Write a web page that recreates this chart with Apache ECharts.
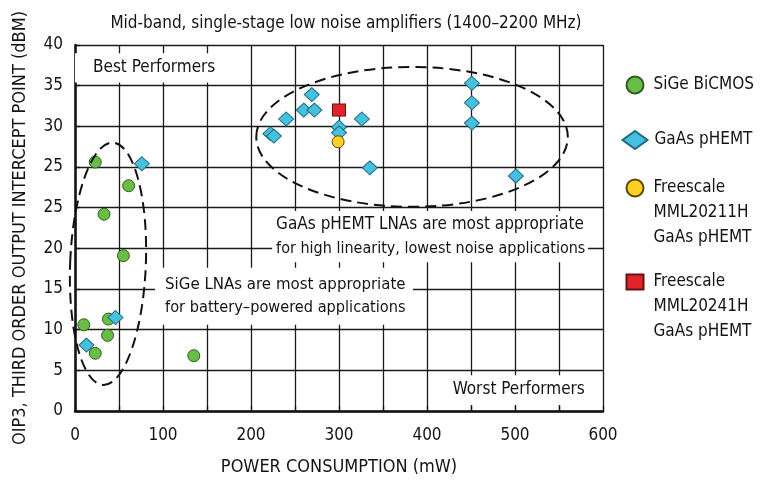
<!DOCTYPE html>
<html>
<head>
<meta charset="utf-8">
<script src="https://cdn.jsdelivr.net/npm/echarts@6/dist/echarts.min.js"></script>
<style>
  html, body { margin: 0; padding: 0; background: #fff; }
  #chart { width: 762px; height: 483px; }
</style>
</head>
<body>
<div id="chart"></div>
<script>
// OIP3 vs power consumption for mid-band LNAs
const FONT = '"Liberation Sans Narrow", "Arial Narrow", "DejaVu Sans Condensed", sans-serif';

// Y scale has nine 5-unit steps; the printed labels repeat "25"
const yTickLabels = ['0', '5', '10', '15', '20', '25', '25', '30', '35', '40'];

// SiGe BiCMOS parts
const sigeX = [23, 61, 33, 55, 10, 38, 37, 23, 135];
const sigeY = [30.6, 27.7, 24.2, 19.1, 10.6, 11.3, 9.3, 7.1, 6.8];

// GaAs pHEMT parts
const gaasX = [76, 46, 13, 269, 260, 272, 240, 222, 226, 300, 300, 326, 335, 451, 451, 451, 501];
const gaasY = [30.4, 11.5, 8.1, 38.9, 37.0, 37.0, 35.9, 34.1, 33.8, 34.9, 34.2, 35.9, 29.9, 40.3, 37.9, 35.4, 28.9];

// Freescale parts
const mml20211X = [299];
const mml20211Y = [33.1];
const mml20241X = [300];
const mml20241Y = [37.0];

const zip = (xs, ys) => xs.map((x, i) => [x, ys[i]]);

const chart = echarts.init(document.getElementById('chart'), null, { renderer: 'canvas' });

const TEXT = '#141414';
const boxLabel = (distance, extra) => Object.assign({
  show: true,
  color: TEXT,
  fontFamily: FONT,
  fontSize: 17,
  lineHeight: 23,
  position: 'insideLeft',
  distance: distance
}, extra || {});

const legendBase = {
  orient: 'vertical',
  padding: 0,
  selectedMode: false,
  textStyle: { fontFamily: FONT, fontSize: 17, color: TEXT, lineHeight: 25, padding: [0, 0, 0, 5] }
};

// multi-line legend names: two leading blank lines put the first line beside the icon
const firstLineBesideIcon = name => '\n\n' + name;

const option = {
  animation: false,
  backgroundColor: '#fff',
  title: {
    text: 'Mid-band, single-stage low noise amplifiers (1400\u20132200 MHz)',
    left: 341,
    top: 10,
    textAlign: 'center',
    textStyle: { fontFamily: FONT, fontSize: 17, fontWeight: 'normal', color: TEXT }
  },
  grid: { left: 75, right: 159, top: 45, bottom: 72, containLabel: false, outerBoundsMode: 'none' },
  xAxis: {
    type: 'value',
    min: 0, max: 600, interval: 50,
    name: 'POWER CONSUMPTION (mW)',
    nameLocation: 'middle',
    nameGap: 47,
    nameTextStyle: { fontFamily: FONT, fontSize: 18, color: TEXT },
    axisLine: { lineStyle: { color: '#111', width: 2.5 } },
    axisTick: { show: true, inside: true, length: 5, lineStyle: { color: '#111', width: 1.3 } },
    axisLabel: {
      fontFamily: FONT, fontSize: 17, color: TEXT, margin: 16,
      formatter: v => (v % 100 === 0 ? String(v) : '')
    },
    splitLine: { show: true, lineStyle: { color: '#1a1a1a', width: 1.3 } }
  },
  yAxis: {
    type: 'value',
    min: 0, max: 45, interval: 5,
    name: 'OIP3, THIRD ORDER OUTPUT INTERCEPT POINT (dBM)',
    nameLocation: 'middle',
    nameGap: 46,
    nameTextStyle: { fontFamily: FONT, fontSize: 18, color: TEXT },
    axisLine: { show: true, lineStyle: { color: '#111', width: 2.5 } },
    axisTick: { show: true, inside: true, length: 5, lineStyle: { color: '#111', width: 1.3 } },
    axisLabel: {
      fontFamily: FONT, fontSize: 17, color: TEXT, margin: 12,
      formatter: v => yTickLabels[Math.round(v / 5)]
    },
    splitLine: { show: true, lineStyle: { color: '#1a1a1a', width: 1.3 } }
  },
  legend: [
    Object.assign({}, legendBase, {
      data: ['SiGe BiCMOS'],
      left: 625.5, top: 72.5, itemWidth: 17, itemHeight: 17
    }),
    Object.assign({}, legendBase, {
      data: ['GaAs pHEMT'],
      textStyle: Object.assign({}, legendBase.textStyle, { padding: [0, 0, 0, 2] }),
      left: 621.5, top: 127.5, itemWidth: 25, itemHeight: 18, symbolKeepAspect: false
    }),
    Object.assign({}, legendBase, {
      data: ['Freescale\nMML20211H\nGaAs pHEMT'],
      formatter: firstLineBesideIcon,
      left: 625.5, top: 125.5, itemWidth: 17, itemHeight: 17
    }),
    Object.assign({}, legendBase, {
      data: ['Freescale\nMML20241H\nGaAs pHEMT'],
      formatter: firstLineBesideIcon,
      left: 625.5, top: 219.5, itemWidth: 17, itemHeight: 15, symbolKeepAspect: false
    })
  ],
  series: [
    {
      name: 'SiGe BiCMOS',
      type: 'scatter',
      symbol: 'circle',
      symbolSize: 12,
      z: 3,
      itemStyle: { color: '#67bd45', borderColor: '#2f5e1c', borderWidth: 1, opacity: 1 },
      data: zip(sigeX, sigeY),
      markArea: {
        silent: true,
        z: 1,
        itemStyle: { color: '#fff', borderWidth: 0 },
        data: [
          [{ name: 'Best Performers', coord: [0, 44.0], label: boxLabel(18) },
           { coord: [193, 40.4] }],
          [{ name: 'Worst Performers', coord: [403, 4.4], label: boxLabel(23) },
           { coord: [597, 0.75] }],
          [{
            name: 'SiGe LNAs are most appropriate\nfor battery\u2013powered applications',
            coord: [91, 17.6],
            label: boxLabel(10, {
              formatter: '{a|SiGe LNAs are most appropriate}\n{b|for battery\u2013powered applications}',
              rich: {
                a: { fontFamily: FONT, fontSize: 16.7, color: TEXT, lineHeight: 23 },
                b: { fontFamily: FONT, fontSize: 16.2, color: TEXT, lineHeight: 23 }
              }
            })
          }, { coord: [384, 10.6] }],
          [{
            name: 'GaAs pHEMT LNAs are most appropriate\nfor high linearity, lowest noise applications',
            coord: [224, 24.6],
            label: boxLabel(4, {
              formatter: '{a|GaAs pHEMT LNAs are most appropriate}\n{b|for high linearity, lowest noise applications}',
              rich: {
                a: { fontFamily: FONT, fontSize: 17, color: TEXT, lineHeight: 24 },
                b: { fontFamily: FONT, fontSize: 16, color: TEXT, lineHeight: 24 }
              }
            })
          }, { coord: [583, 18.3] }]
        ]
      }
    },
    {
      name: 'GaAs pHEMT',
      type: 'scatter',
      symbol: 'diamond',
      symbolSize: [15, 14],
      z: 3,
      itemStyle: { color: '#45c0df', borderColor: '#1e6a80', borderWidth: 1, opacity: 1 },
      data: zip(gaasX, gaasY)
    },
    {
      name: 'Freescale\nMML20211H\nGaAs pHEMT',
      type: 'scatter',
      symbol: 'circle',
      symbolSize: 12,
      z: 4,
      itemStyle: { color: '#fdd022', borderColor: '#5b4812', borderWidth: 1, opacity: 1 },
      data: zip(mml20211X, mml20211Y)
    },
    {
      name: 'Freescale\nMML20241H\nGaAs pHEMT',
      type: 'scatter',
      symbol: 'rect',
      symbolSize: [13, 12],
      z: 4,
      itemStyle: { color: '#e2242a', borderColor: '#6b1010', borderWidth: 1, opacity: 1 },
      data: zip(mml20241X, mml20241Y)
    },
    {
      // dashed grouping ellipses: [centerX, centerY, radiusX, radiusY, rotation]
      type: 'custom',
      silent: true,
      z: 5,
      data: [[37.5, 18.1, 43, 14.9, -0.04], [383, 33.7, 177, 8.6, 0]],
      renderItem: (params, api) => {
        const c = api.coord([api.value(0), api.value(1)]);
        const s = api.size([api.value(2), api.value(3)]);
        return {
          type: 'ellipse',
          shape: { cx: 0, cy: 0, rx: s[0], ry: s[1] },
          x: c[0], y: c[1],
          rotation: api.value(4),
          style: { fill: 'none', stroke: '#111', lineWidth: 2, lineDash: [11, 6] }
        };
      }
    }
  ]
};

chart.setOption(option);
</script>
</body>
</html>
